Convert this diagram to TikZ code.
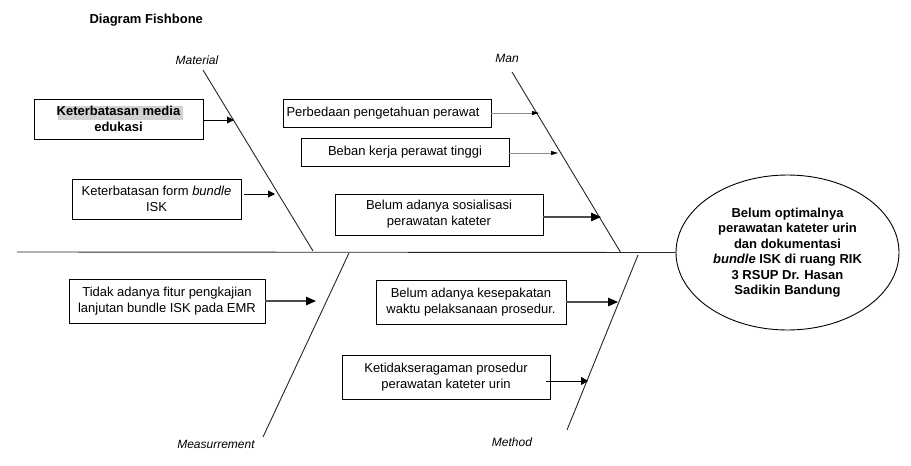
\documentclass[tikz,border=0pt]{standalone}
\usepackage{fontspec}
\setmainfont{Liberation Sans}
\usetikzlibrary{arrows.meta,shapes.geometric}
\begin{document}
\begin{tikzpicture}[x=1pt,y=-1pt,
  cbox/.style={draw,line width=0.9pt,align=center,inner sep=2pt,
    font=\fontsize{13}{16}\selectfont},
  bone/.style={line width=0.9pt,draw=black!85},
  cause/.style={line width=0.9pt,-{Triangle[length=7pt,width=7pt]}},
  bigcause/.style={draw=black!70,-{Triangle[length=10pt,width=8.5pt,fill=black,color=black]}},
  thincause/.style={line width=0.8pt,draw=black!45,-{Triangle[length=7pt,width=4pt,fill=black,color=black]}},
  cat/.style={font=\fontsize{12}{14}\selectfont\itshape}]
\useasboundingbox (0,0) rectangle (911,466);
% title
\node[font=\fontsize{13}{16}\selectfont\bfseries,anchor=west] (title) at (86,20) {Diagram Fishbone};
% head
\node[draw,line width=0.9pt,ellipse,minimum width=223pt,minimum height=155pt,
  align=center,font=\fontsize{13}{15.5}\selectfont\bfseries] (head) at (787.5,252.5)
  {Belum optimalnya\\perawatan kateter urin\\dan dokumentasi\\\textit{bundle} ISK di ruang RIK\\3 RSUP Dr. Hasan\\Sadikin Bandung};
% spine
\coordinate (tail) at (17,252);
\draw[bone] (tail) -- (head.west);
% bones
\coordinate (m1) at (203,70);  \coordinate (m2) at (313,251);
\coordinate (n1) at (512,72);  \coordinate (n2) at (621,253);
\coordinate (s1) at (263,437); \coordinate (s2) at (349,253);
\coordinate (d1) at (567,430); \coordinate (d2) at (638,255);
\draw[bone] (m1) -- (m2);
\draw[bone] (n1) -- (n2);
\draw[bone] (s1) -- (s2);
\draw[bone] (d1) -- (d2);
% category labels
\node[cat] (lmat) at (197,60) {Material};
\node[cat] (lman) at (507,58) {Man};
\node[cat] (lmea) at (216,444) {Measurrement};
\node[cat] (lmet) at (512,442) {Method};
% highlight
\fill[black!18] (58,106) rectangle (183,120);
% boxes
\node[cbox,minimum width=169pt,minimum height=40pt,font=\fontsize{13}{16}\selectfont\bfseries] (b1) at (118.5,119) {Keterbatasan media\\edukasi};
\node[cbox,minimum width=169pt,minimum height=40pt] (b2) at (156.5,199) {Keterbatasan form \textit{bundle}\\ISK};
\node[cbox,minimum width=208pt,minimum height=28pt] (b3) at (387,113) {Perbedaan pengetahuan perawat\hspace{8pt}};
\node[cbox,minimum width=208pt,minimum height=28pt] (b4) at (405,152) {Beban kerja perawat tinggi};
\node[cbox,minimum width=208pt,minimum height=41pt] (b5) at (439,214.5) {Belum adanya sosialisasi\\perawatan kateter};
\node[cbox,minimum width=196pt,minimum height=44pt] (b6) at (167,301) {Tidak adanya fitur pengkajian\\lanjutan bundle ISK pada EMR};
\node[cbox,minimum width=190pt,minimum height=44pt] (b7) at (471,302) {Belum adanya kesepakatan\\waktu pelaksanaan prosedur.};
\node[cbox,minimum width=208pt,minimum height=44pt] (b8) at (446,377) {Ketidakseragaman prosedur\hspace{14pt}\\perawatan kateter urin\hspace{8pt}};
% arrow tips
\coordinate (t1) at (234,120);
\coordinate (t2) at (275,194);
\coordinate (t3) at (539,113);
\coordinate (t4) at (558,153);
\coordinate (t5) at (601,217);
\coordinate (t6) at (316,301);
\coordinate (t7) at (618,302);
\coordinate (t8) at (588,381);
% arrows
\draw[cause] (b1.east |- t1) -- (t1);
\draw[cause] ([xshift=3pt]b2.east |- t2) -- (t2);
\draw[thincause] (b3.east |- t3) -- (t3);
\draw[thincause] (b4.east |- t4) -- (t4);
\draw[bigcause,line width=1.3pt] (b5.east |- t5) -- (t5);
\draw[bigcause,line width=1.2pt] (b6.east |- t6) -- (t6);
\draw[bigcause,line width=1.2pt] (b7.east |- t7) -- (t7);
\draw[cause,-{Triangle[length=7pt,width=8pt]}] ([xshift=-4pt]b8.east |- t8) -- (t8);
\end{tikzpicture}
\end{document}
